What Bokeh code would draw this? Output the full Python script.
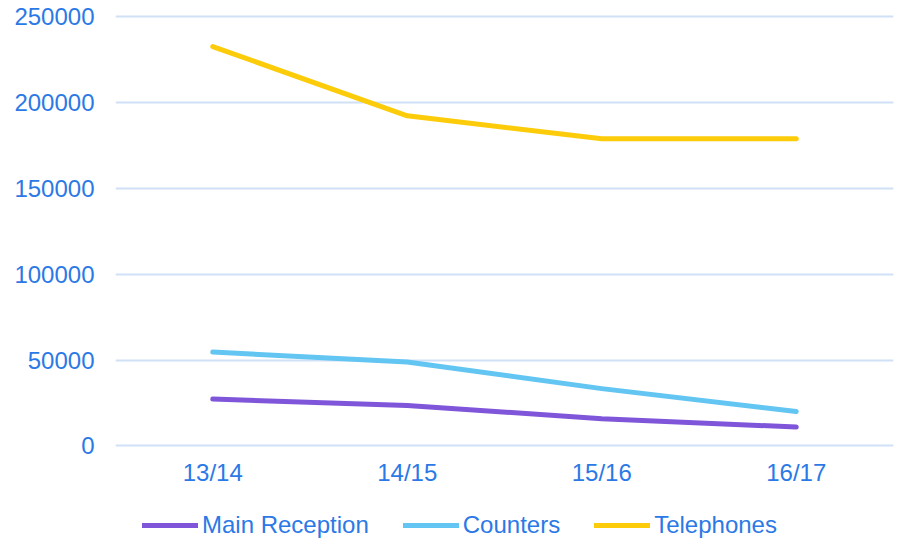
from bokeh.plotting import figure
from bokeh.models import Legend, LegendItem, FixedTicker, NumeralTickFormatter, ColumnDataSource
from bokeh.embed import file_html
from bokeh.resources import INLINE

years = ["13/14", "14/15", "15/16", "16/17"]
main_reception = [27300, 23600, 15900, 11000]
counters = [54700, 48900, 33400, 20100]
telephones = [232500, 192200, 178800, 178800]
y_ticks = [0, 50000, 100000, 150000, 200000, 250000]

series = [
    ("Main Reception", main_reception, "#7f56d9"),
    ("Counters", counters, "#63c5f2"),
    ("Telephones", telephones, "#fccc0a"),
]

FONT = "Liberation Sans"
TXT = "#2b79e6"

p = figure(x_range=years, y_range=(-54424, 251164), frame_width=778, frame_height=525,
           output_backend="svg", toolbar_location=None,
           min_border_left=115, min_border_right=4, min_border_top=14, min_border_bottom=0)
p.outline_line_color = None
p.background_fill_color = "white"

items = []
for name, vals, color in series:
    src = ColumnDataSource(dict(x=years, y=vals))
    r = p.line("x", "y", source=src, line_color=color, line_width=5, line_cap="round", line_join="round")
    items.append(LegendItem(label=name, renderers=[r]))

p.yaxis.ticker = FixedTicker(ticks=y_ticks)
p.yaxis.formatter = NumeralTickFormatter(format="0")
for ax in (p.xaxis[0], p.yaxis[0]):
    ax.axis_line_color = None
    ax.major_tick_line_color = None
    ax.minor_tick_line_color = None
    ax.major_label_text_font = FONT
    ax.major_label_text_font_size = "24px"
    ax.major_label_text_color = TXT
p.yaxis.major_label_standoff = 15
p.xaxis.major_label_standoff = 7
p.xaxis.fixed_location = 0

p.xgrid.grid_line_color = None
p.ygrid.grid_line_color = "#cfe0f7"
p.ygrid.grid_line_width = 2
p.ygrid.ticker = FixedTicker(ticks=y_ticks)

legend = Legend(items=items, orientation="horizontal", location=(27, 0),
                label_text_font=FONT, label_text_font_size="24px", label_text_color=TXT,
                glyph_width=56, glyph_height=24, label_height=24, label_standoff=4, spacing=34,
                border_line_color=None, background_fill_alpha=0, padding=0, margin=0)
p.add_layout(legend, "center")

open("out.html", "w").write(file_html(p, INLINE))
